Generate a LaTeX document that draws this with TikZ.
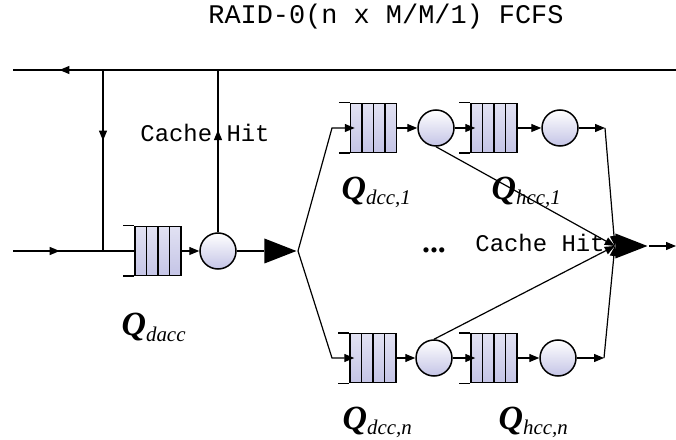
\documentclass[tikz,border=0pt]{standalone}
\usepackage{fontspec}
\setmainfont{Liberation Serif}
\setmonofont{Liberation Mono}
\usetikzlibrary{shapes.geometric,arrows.meta,decorations.markings,calc}
\definecolor{lav}{RGB}{196,196,230}
\newcommand\qlab[1]{{\fontsize{34}{34}\selectfont\bfseries\itshape Q}\raisebox{-5bp}{\fontsize{21}{21}\selectfont\itshape #1}}
\begin{document}
\begin{tikzpicture}[x=1bp,y=-1bp,line width=1.2bp,
  >={Triangle[length=10bp,width=8bp]},
  midarrow/.style={postaction={decorate},decoration={markings,mark=at position #1 with {\arrow{Triangle[length=10bp,width=8bp]}}}},
  queuebox/.style={draw,line width=1.5bp,rectangle,minimum width=46bp,minimum height=49bp,inner sep=0pt,
    top color=white!50!lav,bottom color=lav,
    path picture={\foreach \k in {1,2,3}{\draw[line width=1.5bp]
      ($(path picture bounding box.north west)!\k/4!(path picture bounding box.north east)$) --
      ($(path picture bounding box.south west)!\k/4!(path picture bounding box.south east)$);}}},
  server/.style={draw,circle,line width=1.5bp,minimum size=36bp,inner sep=0pt,top color=white,bottom color=lav},
  merge/.style={isosceles triangle,isosceles triangle stretches,fill=black,draw=none,inner sep=0pt,minimum width=25bp,minimum height=32bp},
  hit/.style={font=\ttfamily\fontsize{24}{24}\selectfont,inner sep=0pt},
  qname/.style={anchor=base west,inner sep=0pt}
]
\useasboundingbox (0,0) rectangle (676,440);

% title
\node[font=\ttfamily\fontsize{27}{27}\selectfont,inner sep=0pt] (title) at (386,17) {RAID-0(n x M/M/1) FCFS};

% coordinates
\coordinate (tR) at (676,70);
\coordinate (tL) at (13,70);
\coordinate (j1) at (103,70);
\coordinate (j2) at (218,70);
\coordinate (j3) at (103,251);
\coordinate (in) at (13,251);
\coordinate (b1) at (332,128);
\coordinate (bn) at (332,358);
\coordinate (e1) at (605,128);
\coordinate (en) at (604,358);
\coordinate (out) at (676,246);

% nodes
\node[queuebox] (qa) at (158,251) {};
\node[server] (ca) at (218,251) {};
\node[merge,anchor=apex] (t1) at (298,251) {};

\node[queuebox] (qd1) at (373.5,128) {};
\node[server] (c1) at (436,128) {};
\node[queuebox] (qh1) at (494,128) {};
\node[server] (c2) at (560,128) {};

\node[queuebox] (qdn) at (373,358) {};
\node[server] (cn) at (434,358) {};
\node[queuebox] (qhn) at (494,358) {};
\node[server] (chn) at (558,358) {};

\node[merge,anchor=apex] (t2) at (649,246) {};

% open ends of queues
\foreach \q in {qa,qd1,qh1,qdn,qhn}{
  \draw[line width=1.5bp] ([xshift=-11bp]\q.north west) -- (\q.north west)
                          ([xshift=-11bp]\q.south west) -- (\q.south west);
}

% feedback loop
\draw[midarrow=0.93] (tR) -- (tL);
\draw[midarrow=0.39] (j1) -- (j3);
\draw[midarrow=0.385] (in) -- (qa.west);
\draw[midarrow=0.63] (ca.north) -- (j2);
\draw[->] (qa.east) -- (ca.west);
\draw (ca.east) -- (t1.west);

% fork
\draw[->] (t1.apex) -- (b1) -- ([xshift=5bp]qd1.west);
\draw[->] (t1.apex) -- (bn) -- ([xshift=5bp]qdn.west);

% upper row
\draw[->] (qd1.east) -- (c1.west);
\draw[->] (c1.east) -- ([xshift=5bp]qh1.west);
\draw[->] (qh1.east) -- (c2.west);
\draw[->] (c2.east) -- (e1);
\draw[->] (e1) -- (t2.west);
\draw[->] (c1.south) -- (t2.west);

% lower row
\draw[->] (qdn.east) -- (cn.west);
\draw[->] (cn.east) -- ([xshift=5bp]qhn.west);
\draw[->] (qhn.east) -- (chn.west);
\draw[->] (chn.east) -- (en);
\draw[->] (en) -- (t2.west);
\draw[->] (cn.north) -- (t2.west);

\draw[->] (t2.apex) -- (out);

% labels
\node[hit] (hit1) at (205,133) {Cache Hit};
\node[hit] (hit2) at (540,243) {Cache Hit};
\node[font=\bfseries\fontsize{32}{32}\selectfont,inner sep=0pt] (dots) at (434,250) {...};
\node[qname] (la) at (121,336) {\qlab{dacc}};
\node[qname] (ld1) at (341,200) {\qlab{dcc,1}};
\node[qname] (lh1) at (491,200) {\qlab{hcc,1}};
\node[qname] (ldn) at (342,429) {\qlab{dcc,n}};
\node[qname] (lhn) at (498,429) {\qlab{hcc,n}};
\end{tikzpicture}
\end{document}
